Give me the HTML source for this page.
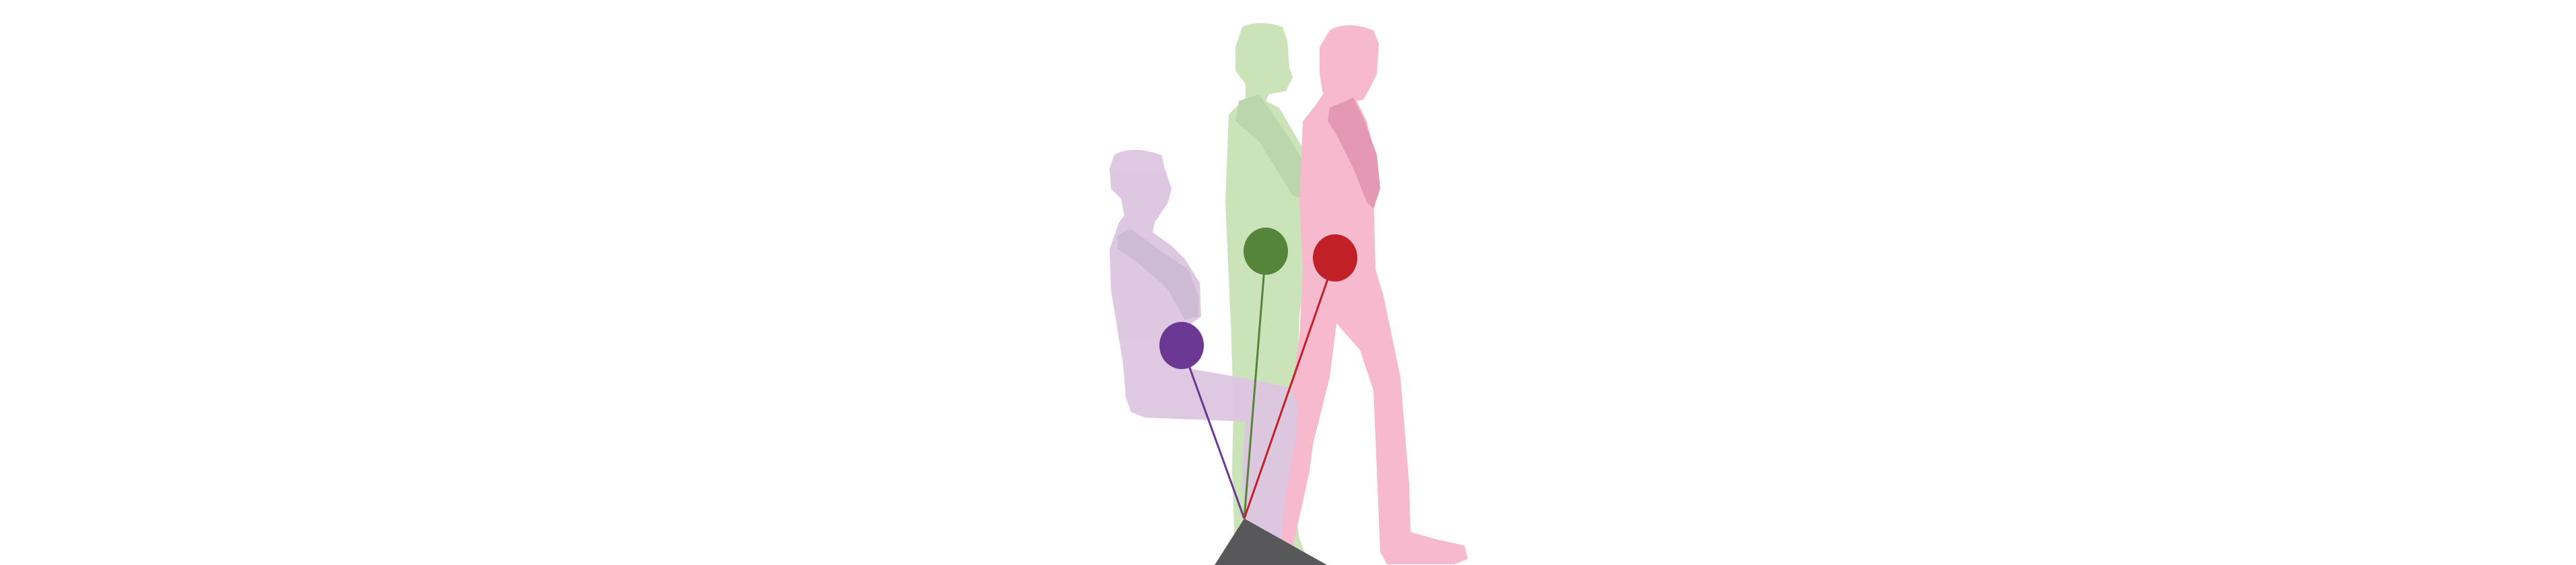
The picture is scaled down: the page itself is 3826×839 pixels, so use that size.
<!DOCTYPE html>
<html><head><meta charset="utf-8"><style>
html,body{margin:0;padding:0;background:#fff;}
svg{display:block;}
</style></head><body>
<svg id="fig" width="3826" height="839" viewBox="0 0 3826 839" xmlns="http://www.w3.org/2000/svg">
  <rect width="3826" height="839" fill="#fff"/>
  <g opacity="0.95">
    <path fill="#c8e2b5" d="M1845,40 Q1870,28 1905,40 L1912,60 L1915,100 L1920,115 L1910,135 L1885,140 L1880,150 L1900,160 L1935,220 L1946,270 L1938,400 L1930,470 L1925,600 L1915,700 L1930,800 L1945,839 L1835,839 L1830,700 L1832,600 L1828,480 L1820,300 L1825,170 L1850,145 L1850,125 L1835,105 L1835,70 Z"/>
    <path fill="#b8d4a8" d="M1840,150 L1870,140 L1915,205 L1945,255 L1945,300 L1920,290 L1870,210 L1835,180 Z"/>
  </g>
  <g>
    <path fill="#f6b9cd" d="M1975,45 Q2000,30 2040,45 L2048,65 L2045,110 L2035,130 L2025,148 L2015,150 L2030,180 L2040,220 L2040,290 L2043,400 L2055,440 L2080,560 L2093,720 L2095,790 L2130,800 L2175,810 L2180,830 L2160,838 L2060,838 L2050,820 L2045,700 L2040,580 L2020,520 L1985,480 L1975,560 L1950,660 L1945,700 L1925,790 L1915,839 L1888,839 L1900,700 L1915,600 L1930,500 L1935,400 L1930,300 L1935,180 L1955,155 L1965,140 L1960,110 L1960,70 Z"/>
    <path fill="#e498b3" d="M1975,160 L2010,145 L2025,175 L2045,230 L2050,280 L2040,310 L2030,300 L2010,250 L1985,200 L1972,180 Z"/>
  </g>
  <g opacity="0.95">
    <path fill="#dcc5e0" d="M1655,230 Q1680,215 1725,230 L1730,250 L1740,280 L1735,300 L1722,320 L1715,330 L1712,345 L1740,365 L1760,385 L1782,420 L1784,470 L1770,480 L1770,548 L1840,560 L1915,575 L1928,600 L1925,650 L1915,700 L1905,780 L1900,839 L1855,839 L1848,760 L1845,700 L1850,626 L1700,620 L1680,612 L1672,590 L1668,540 L1650,430 L1648,370 L1662,330 L1670,320 L1665,295 L1650,280 L1648,250 Z"/>
    <path fill="#cbb7d1" d="M1660,350 L1680,340 L1720,370 L1765,400 L1780,440 L1780,470 L1760,475 L1735,430 L1690,390 L1660,370 Z"/>
  </g>
  <g id="marks"></g>
  <polygon fill="#58585a" points="1848,770 1804,839 1971,839"/>
</svg>
<script>
const markerNames = ['seated', 'standing', 'walking'];
const markerX = [1755, 1880, 1983];
const markerY = [513, 373, 383];
const markerColors = ['#6b3893', '#54853a', '#c02026'];
const pivot = [1848, 770];
const R = 33;
const g = document.getElementById('marks');
const NS = 'http://www.w3.org/2000/svg';
for (let i = 0; i < markerNames.length; i++) {
  const l = document.createElementNS(NS, 'line');
  l.setAttribute('x1', markerX[i]); l.setAttribute('y1', markerY[i]);
  l.setAttribute('x2', pivot[0]); l.setAttribute('y2', pivot[1]);
  l.setAttribute('stroke', markerColors[i]); l.setAttribute('stroke-width', 3);
  
  
  g.appendChild(l);
}
for (let i = 0; i < markerNames.length; i++) {
  const c = document.createElementNS(NS, 'ellipse');
  c.setAttribute('cx', markerX[i]); c.setAttribute('cy', markerY[i]);
  c.setAttribute('rx', R); c.setAttribute('ry', R + 2);
  c.setAttribute('fill', markerColors[i]);
  
  
  g.appendChild(c);
}
</script>
</body></html>
